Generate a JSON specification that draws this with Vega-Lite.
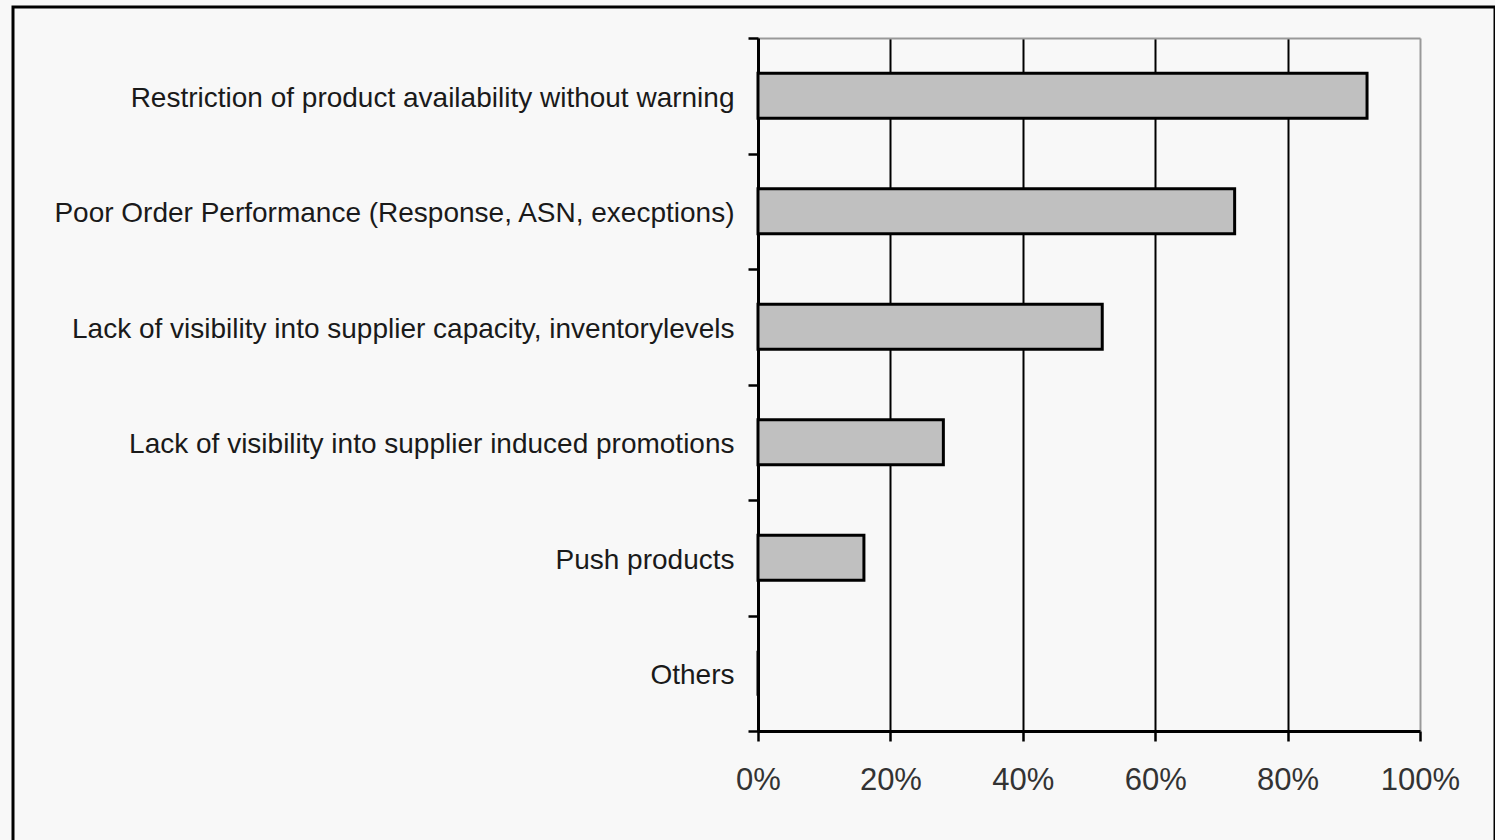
{
  "$schema": "https://vega.github.io/schema/vega-lite/v6.json",
  "autosize": "none",
  "padding": {"left": 13, "top": 7, "right": 0, "bottom": 0},
  "width": 1482,
  "height": 850,
  "background": "#f8f8f8",
  "config": {"view": {"stroke": "#000", "strokeWidth": 3}, "font": "Liberation Sans"},
  "data": {"values": [
    {"issue": "Restriction of product availability without warning", "share": 0.92},
    {"issue": "Poor Order Performance (Response, ASN, execptions)", "share": 0.72},
    {"issue": "Lack of visibility into supplier capacity, inventorylevels", "share": 0.52},
    {"issue": "Lack of visibility into supplier induced promotions", "share": 0.28},
    {"issue": "Push products", "share": 0.16},
    {"issue": "Others", "share": 0}
  ]},
  "encoding": {
    "y": {
      "field": "issue", "type": "nominal", "sort": null, "title": null,
      "scale": {"range": [31, 724], "paddingInner": 0, "paddingOuter": 0},
      "axis": {
        "orient": "left", "offset": -745,
        "domainColor": "#000", "domainWidth": 3,
        "tickBand": "extent", "tickSize": 10, "tickWidth": 2.5, "tickColor": "#000",
        "labelFont": "Liberation Sans", "labelFontSize": 28, "labelColor": "#1a1a1a",
        "labelPadding": 14, "labelLimit": 900, "labelOffset": 2.5,
        "grid": false
      }
    }
  },
  "layer": [
    {
      "mark": {"type": "bar", "fill": "#c0c0c0", "strokeWidth": 0, "height": {"band": 0.39}},
      "encoding": {
        "x": {
          "field": "share", "type": "quantitative", "title": null,
          "scale": {"domain": [0, 1], "range": [745, 1407]},
          "axis": {
            "orient": "top", "offset": -31,
            "values": [0, 0.2, 0.4, 0.6, 0.8, 1],
            "domainColor": "#999", "domainWidth": 2,
            "ticks": false, "labels": false,
            "grid": true, "gridWidth": 2,
            "gridColor": {"condition": {"test": "datum.value === 1", "value": "#999"}, "value": "#000"}
          }
        }
      }
    },
    {
      "mark": {"type": "bar", "fill": null, "fillOpacity": 0, "stroke": "#000", "strokeWidth": 3, "height": {"band": 0.39}},
      "encoding": {
        "x": {
          "field": "share", "type": "quantitative", "title": null,
          "axis": {
            "orient": "bottom", "offset": -126,
            "values": [0, 0.2, 0.4, 0.6, 0.8, 1], "format": "%",
            "domainColor": "#000", "domainWidth": 3,
            "tickSize": 10, "tickWidth": 2.5, "tickColor": "#000",
            "labelFont": "Liberation Sans", "labelFontSize": 31, "labelColor": "#333",
            "labelPadding": 24, "labelFlush": false,
            "grid": false
          }
        }
      }
    }
  ],
  "resolve": {"axis": {"x": "independent"}}
}
